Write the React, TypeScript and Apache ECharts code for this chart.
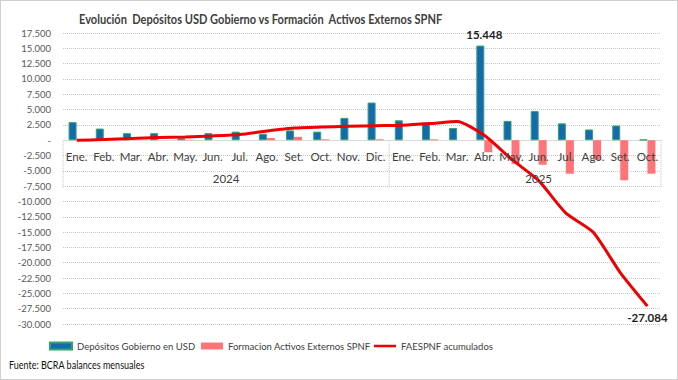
import React, { useEffect, useRef } from "react";
import * as echarts from "echarts";

const months = [
  "Ene.", "Feb.", "Mar.", "Abr.", "May.", "Jun.", "Jul.", "Ago.", "Set.", "Oct.", "Nov.", "Dic.",
  "Ene.", "Feb.", "Mar.", "Abr.", "May.", "Jun.", "Jul.", "Ago.", "Set.", "Oct.",
];
const years = ["2024", "2025"];
const yearCounts = [12, 10];
const yearLabelSpans = [12, 11];

const depositos = [
  2950, 1900, 1150, 1150, 300, 1150, 1400, 1050, 1600, 1400, 3650, 6150,
  3250, 2850, 2000, 15448, 3150, 4750, 2750, 1750, 2400, 100,
];
const formacion = [
  0, 0, 0, 0, 60, 0, 0, 350, 550, 150, 0, 150,
  0, 150, 0, -1970, -3850, -4010, -5470, -3200, -6540, -5470,
];
const acumulado = [
  0, 100, 280, 440, 540, 700, 930, 1500, 1990, 2150, 2270, 2380,
  2460, 2720, 3040, 800, -3100, -6600, -11900, -15000, -21600, -27084,
];

const yMin = -30000;
const yMax = 17500;
const yStep = 2500;

const FONT = "Lato, 'Open Sans', sans-serif";
const S_DEP = "Depósitos Gobierno en USD";
const S_FAE = "Formacion Activos Externos SPNF";
const S_ACU = "FAESPNF acumulados";

function fmt(v: number): string {
  if (v === 0) return "-";
  const s = Math.abs(Math.round(v)).toString().replace(/\B(?=(\d{3})+(?!\d))/g, ".");
  return (v < 0 ? "-" : "") + s;
}

export default function App() {
  const ref = useRef<HTMLDivElement>(null);
  useEffect(() => {
    if (!ref.current) return;
    const chart = echarts.init(ref.current, null, { renderer: "svg" });

    const maxIdx = depositos.indexOf(Math.max(...depositos));
    const lastIdx = acumulado.length - 1;
    const legendText = { fontFamily: FONT, fontSize: 9.5, color: "#404040" };
    const lineIcon = "path://M0,2.2h22v2.6h-22z M0,0h0.01v7h-0.01z";
    const legendBase = { top: 340, padding: 0, itemWidth: 22, itemHeight: 7, itemGap: 4, textStyle: legendText };

    chart.setOption({
      animation: false,
      textStyle: { fontFamily: FONT },
      grid: { left: 62, right: 16, top: 32, bottom: 55 },
      legend: [
        { ...legendBase, left: 48, data: [{ name: S_DEP, icon: "rect" }] },
        { ...legendBase, left: 200, data: [{ name: S_FAE, icon: "rect" }] },
        { ...legendBase, left: 373, data: [{ name: S_ACU, icon: lineIcon }] },
      ],
      xAxis: {
        type: "category",
        data: months,
        axisLine: { onZero: true, lineStyle: { color: "#d9d9d9" } },
        axisTick: { show: false },
        axisLabel: { show: false },
      },
      yAxis: {
        type: "value",
        min: yMin,
        max: yMax,
        interval: yStep,
        axisLine: { show: false },
        axisTick: { show: false },
        axisLabel: { formatter: fmt, fontSize: 9.5, color: "#595959", margin: 12, fontFamily: FONT },
        splitLine: { lineStyle: { color: "#c8c8c8", type: "dotted" } },
      },
      series: [
        {
          name: S_DEP,
          type: "bar",
          barWidth: 8,
          barGap: "0%",
          itemStyle: { color: "#1668B0", borderColor: "#2DA868", borderWidth: 1 },
          data: depositos.map((v, i) =>
            i === maxIdx
              ? {
                  value: v,
                  label: {
                    show: true,
                    position: "top",
                    formatter: (p: any) => fmt(p.value),
                    fontWeight: "bold",
                    fontSize: 11.5,
                    color: "#222",
                    offset: [4, 0],
                    fontFamily: FONT,
                  },
                }
              : v
          ),
        },
        {
          name: S_FAE,
          type: "bar",
          barWidth: 8,
          barGap: "0%",
          itemStyle: { color: "#FF7478" },
          data: formacion,
        },
        {
          name: S_ACU,
          type: "line",
          symbol: "none",
          smooth: 0.2,
          lineStyle: { color: "#EE0000", width: 3 },
          itemStyle: { color: "#EE0000" },
          z: 5,
          data: acumulado,
          markPoint: {
            symbol: "circle",
            symbolSize: 0,
            data: [
              {
                coord: [lastIdx, acumulado[lastIdx]],
                value: acumulado[lastIdx],
                label: {
                  show: true,
                  position: "bottom",
                  distance: 5,
                  formatter: (p: any) => fmt(p.value),
                  fontWeight: "bold",
                  fontSize: 11.5,
                  color: "#222",
                  fontFamily: FONT,
                },
              },
            ],
          },
        },
      ],
    });

    // month labels and year grouping at the zero line, placed via the axis scales
    const c0 = chart.convertToPixel({ xAxisIndex: 0 }, 0) as number;
    const c1 = chart.convertToPixel({ xAxisIndex: 0 }, 1) as number;
    const band = c1 - c0;
    const zeroY = chart.convertToPixel({ yAxisIndex: 0 }, 0) as number;
    const graphics: any[] = [];
    const edge = (i: number) => c0 - band / 2 + i * band;
    months.forEach((m, i) => {
      graphics.push({
        type: "text",
        x: chart.convertToPixel({ xAxisIndex: 0 }, i) as number,
        y: zeroY + 16,
        z: 10,
        style: { text: m, fontSize: 11.5, fill: "#404040", fontFamily: FONT, align: "center", verticalAlign: "middle" },
      });
    });
    graphics.push({
      type: "line",
      shape: { x1: edge(0), y1: zeroY, x2: edge(0), y2: zeroY + 47 },
      style: { stroke: "#bfbfbf", lineDash: [1, 1] },
    });
    let start = 0;
    years.forEach((y, k) => {
      const mid = edge(start + yearLabelSpans[k] / 2);
      graphics.push({
        type: "text",
        x: mid,
        y: zeroY + 38,
        z: 10,
        style: { text: y, fontSize: 11.5, fill: "#404040", fontFamily: FONT, align: "center", verticalAlign: "middle" },
      });
      start += yearCounts[k];
      graphics.push({
        type: "line",
        shape: { x1: edge(start), y1: zeroY, x2: edge(start), y2: zeroY + 47 },
        style: { stroke: "#bfbfbf", lineDash: [1, 1] },
      });
    });
    graphics.push({
      type: "text",
      x: 78,
      y: 18,
      scaleX: 0.82,
      style: {
        text: "Evolución  Depósitos USD Gobierno vs Formación  Activos Externos SPNF",
        fontSize: 13.5,
        fontWeight: "bold",
        fill: "#404040",
        fontFamily: FONT,
        verticalAlign: "middle",
      },
    });
    graphics.push({
      type: "text",
      x: 8,
      y: 364,
      scaleX: 0.82,
      style: { text: "Fuente: BCRA balances mensuales", fontSize: 11, fill: "#111", fontFamily: FONT, verticalAlign: "middle" },
    });
    chart.setOption({ graphic: graphics });

    return () => chart.dispose();
  }, []);

  return (
    <div
      ref={ref}
      style={{
        position: "fixed",
        left: 0,
        top: 0,
        width: 678,
        height: 380,
        boxSizing: "border-box",
        border: "1px solid #d0d0d0",
        background: "#fff",
      }}
    />
  );
}
